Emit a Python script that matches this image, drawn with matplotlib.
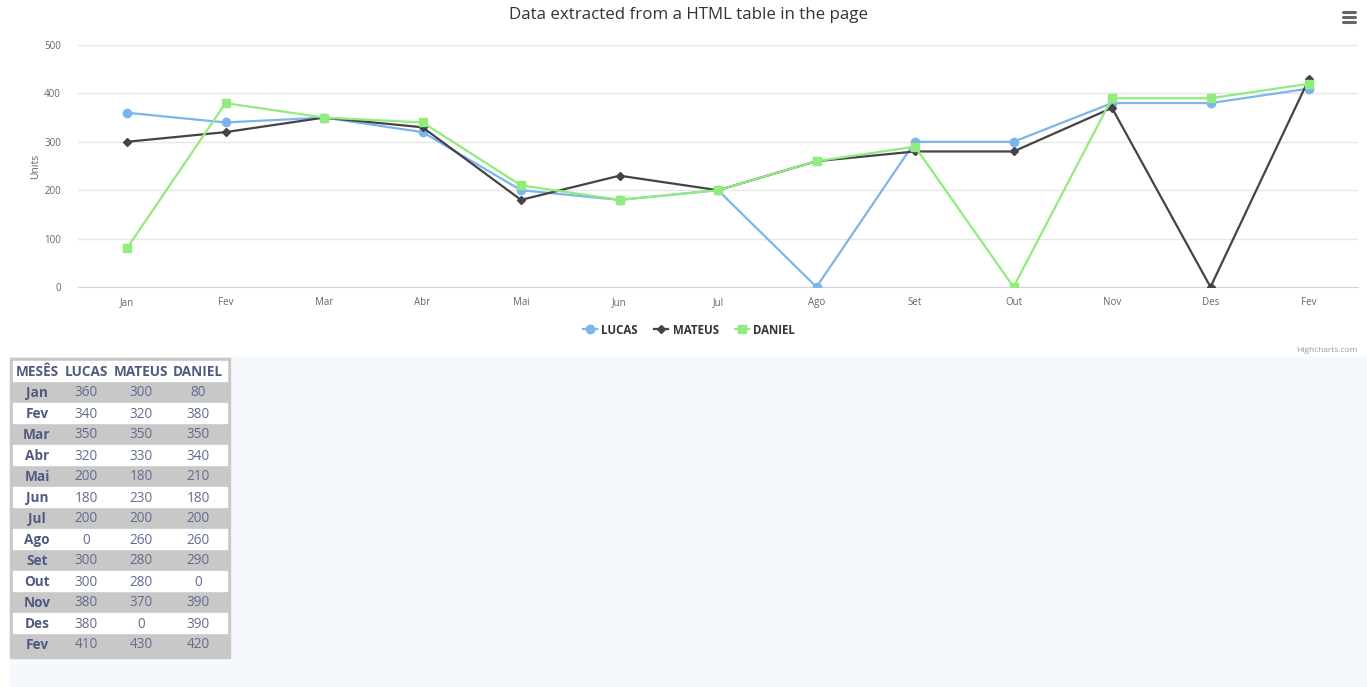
import matplotlib.pyplot as plt
from matplotlib.patches import Rectangle
from matplotlib.lines import Line2D

plt.rcParams['font.family'] = ['Open Sans', 'DejaVu Sans']

months = ['Jan', 'Fev', 'Mar', 'Abr', 'Mai', 'Jun', 'Jul', 'Ago', 'Set', 'Out', 'Nov', 'Des', 'Fev']
lucas = [360, 340, 350, 320, 200, 180, 200, 0, 300, 300, 380, 380, 410]
mateus = [300, 320, 350, 330, 180, 230, 200, 260, 280, 280, 370, 0, 430]
daniel = [80, 380, 350, 340, 210, 180, 200, 260, 290, 0, 390, 390, 420]
yticks = [0, 100, 200, 300, 400, 500]
headers = ['MESÊS', 'LUCAS', 'MATEUS', 'DANIEL']

W, H = 1367, 687
fig = plt.figure(figsize=(W / 100, H / 100), dpi=100)

# overlay in pixel coordinates for background, table, icon
bg = fig.add_axes([0, 0, 1, 1])
bg.set_xlim(0, W)
bg.set_ylim(H, 0)
bg.axis('off')
bg.add_patch(Rectangle((10, 357), W - 10, H - 357, color='#f5f8fc', zorder=0))

# chart
x0, x1, ytop, ybot = 77.75, 1358.25, 45, 287
ax = fig.add_axes([x0 / W, (H - ybot) / H, (x1 - x0) / W, (ybot - ytop) / H])
x = list(range(len(months)))
ax.plot(x, lucas, color='#7cb5ec', marker='o', ms=6, lw=1.6, label='LUCAS', zorder=3)
ax.plot(x, mateus, color='#434348', marker='D', ms=4.2, lw=1.6, label='MATEUS', zorder=3)
ax.plot(x, daniel, color='#90ed7d', marker='s', ms=6, lw=1.6, label='DANIEL', zorder=3)
ax.set_xlim(-0.5, len(months) - 0.5)
ax.set_ylim(0, 500)
ax.set_yticks(yticks)
ax.set_xticks(x)
ax.set_xticklabels(months)
ax.tick_params(axis='both', length=0, labelsize=7, labelcolor='#666666')
ax.tick_params(axis='x', pad=7)
ax.tick_params(axis='y', pad=12)
ax.grid(axis='y', color='#e6e6e6', lw=1)
ax.set_axisbelow(True)
for s in ['top', 'right', 'left']:
    ax.spines[s].set_visible(False)
ax.spines['bottom'].set_color('#ccd6eb')
ax.set_ylabel('Units', fontsize=7.5, color='#666666', labelpad=2)
ax.set_facecolor('none')

fig.text(689 / W, 1 - 15 / H, 'Data extracted from a HTML table in the page',
         ha='center', va='center', fontsize=12.2, color='#333333')

leg = fig.legend(loc='center', bbox_to_anchor=(689 / W, 1 - 330 / H), ncol=3, frameon=False,
                 fontsize=8.3, handlelength=1.2, columnspacing=1.4, handletextpad=0.4)
for t in leg.get_texts():
    t.set_fontweight('bold')
    t.set_color('#333333')

fig.text(1358 / W, 1 - 350 / H, 'Highcharts.com', ha='right', va='center', fontsize=6, color='#999999')

# hamburger icon
for yy in [12, 17, 22]:
    bg.add_line(Line2D([1343, 1355], [yy, yy], color='#666666', lw=2.2, solid_capstyle='round'))

# table
tx0, tx1, ty0, ty1 = 10, 230, 358, 658
bg.add_patch(Rectangle((tx0, ty0), tx1 - tx0, ty1 - ty0, color='#c8c8c8', zorder=1))
rowh = 21
cols = [37, 86, 141, 198]
rows = [headers] + [[m, str(a), str(b), str(c)] for m, a, b, c in zip(months, lucas, mateus, daniel)]
for i, row in enumerate(rows):
    top = 361 + i * rowh
    if i % 2 == 0:
        bg.add_patch(Rectangle((13, top), 214, rowh - 1, color='white', zorder=2))
    yc = top + rowh / 2 + 0.5
    for j, val in enumerate(row):
        bold = (i == 0) or (j == 0)
        bg.text(cols[j], yc, val, ha='center', va='center', fontsize=9.8,
                color='#515a80' if bold else '#646c90',
                fontweight='bold' if bold else 'normal', zorder=3)

fig.savefig('out.png', dpi=100)
